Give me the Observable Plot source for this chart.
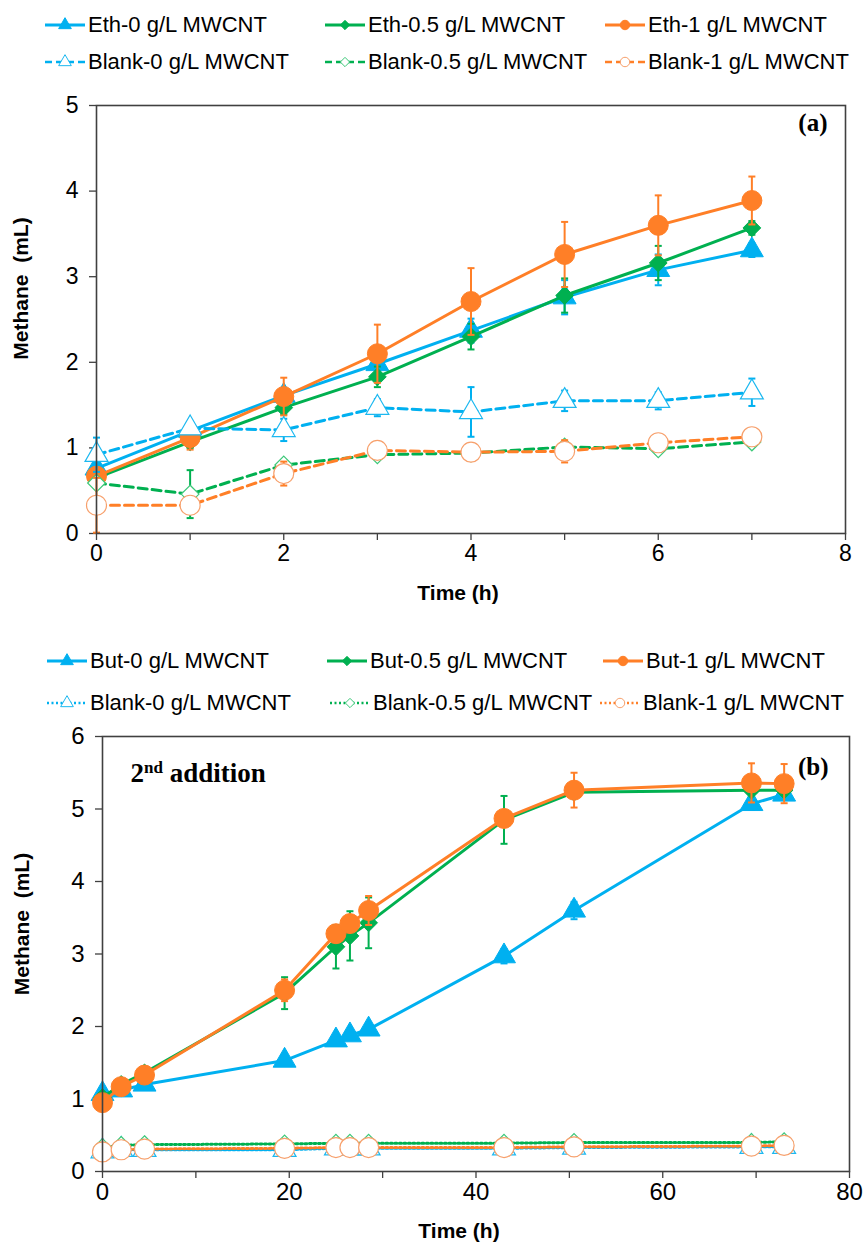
<!DOCTYPE html>
<html>
<head>
<meta charset="utf-8">
<script src="https://cdn.jsdelivr.net/npm/d3@7"></script>
<script src="https://cdn.jsdelivr.net/npm/@observablehq/plot@0.6"></script>
<style>
  html, body { margin: 0; padding: 0; background: #fff; }
  #root { position: relative; width: 864px; height: 1243px; overflow: hidden; }
  .plot { position: absolute; left: 0; }
  .leg { position: absolute; display: flex; align-items: center; white-space: nowrap; color: #000; }
  .leg svg { display: block; margin-right: 3px; }
</style>
</head>
<body>
<div id="root"></div>
<script>
// ---------------- data: panel (a) ----------------
const timeA = [0, 1, 2, 3, 4, 5, 6, 7];
const eth0 = [0.76, 1.20, 1.61, 1.98, 2.37, 2.76, 3.08, 3.31];
const eth0Err = [0.05, 0.05, 0.05, 0.08, 0.14, 0.2, 0.18, 0.08];
const eth05 = [0.65, 1.07, 1.47, 1.83, 2.30, 2.78, 3.16, 3.57];
const eth05Err = [0.05, 0.07, 0.08, 0.12, 0.15, 0.2, 0.2, 0.08];
const eth1 = [0.67, 1.12, 1.60, 2.10, 2.71, 3.26, 3.60, 3.89];
const eth1Err = [0.05, 0.14, 0.22, 0.34, 0.39, 0.38, 0.35, 0.28];
const blankA0 = [0.92, 1.23, 1.21, 1.47, 1.42, 1.55, 1.55, 1.65];
const blankA0Err = [0.2, 0.05, 0.13, 0.1, 0.29, 0.12, 0.1, 0.16];
const blankA05 = [0.59, 0.46, 0.80, 0.92, 0.94, 1.01, 0.99, 1.07];
const blankA05Err = [0.05, 0.28, 0.05, 0.05, 0.04, 0.04, 0.05, 0.04];
const blankA1 = [0.33, 0.33, 0.70, 0.97, 0.95, 0.96, 1.06, 1.13];
const blankA1Err = [0.32, 0.05, 0.14, 0.05, 0.05, 0.13, 0.05, 0.05];
const namesA = ["Eth-0 g/L MWCNT", "Eth-0.5 g/L MWCNT", "Eth-1 g/L MWCNT",
                "Blank-0 g/L MWCNT", "Blank-0.5 g/L MWCNT", "Blank-1 g/L MWCNT"];

// ---------------- data: panel (b) ----------------
const timeB = [0, 2, 4.5, 19.5, 25, 26.5, 28.5, 43, 50.5, 69.5, 73];
const but0 = [1.07, 1.12, 1.20, 1.53, 1.81, 1.88, 1.96, 2.97, 3.60, 5.07, 5.20];
const but0Err = [0.03, 0.03, 0.03, 0.03, 0.04, 0.04, 0.04, 0.1, 0.12, 0.08, 0.05];
const but05 = [1.02, 1.20, 1.36, 2.46, 3.10, 3.25, 3.43, 4.85, 5.23, 5.26, 5.26];
const but05Err = [0.03, 0.05, 0.05, 0.22, 0.30, 0.34, 0.35, 0.33, 0.05, 0.05, 0.05];
const but1 = [0.95, 1.17, 1.33, 2.50, 3.28, 3.42, 3.60, 4.87, 5.26, 5.36, 5.35];
const but1Err = [0.03, 0.04, 0.05, 0.15, 0.1, 0.1, 0.2, 0.1, 0.24, 0.27, 0.27];
const blankB0 = [0.28, 0.30, 0.30, 0.30, 0.32, 0.32, 0.32, 0.32, 0.33, 0.34, 0.34];
const blankB05 = [0.33, 0.36, 0.37, 0.38, 0.39, 0.39, 0.39, 0.39, 0.40, 0.40, 0.41];
const blankB1 = [0.27, 0.30, 0.31, 0.32, 0.33, 0.33, 0.33, 0.33, 0.34, 0.35, 0.36];
const blankBErr = [0, 0, 0, 0, 0, 0, 0, 0, 0, 0, 0];
const namesB = ["But-0 g/L MWCNT", "But-0.5 g/L MWCNT", "But-1 g/L MWCNT",
                "Blank-0 g/L MWCNT", "Blank-0.5 g/L MWCNT", "Blank-1 g/L MWCNT"];

const xTicksA = [0, 1, 2, 3, 4, 5, 6, 7, 8];
const yTicksA = [0, 1, 2, 3, 4, 5];
const xTicksB = [0, 10, 20, 30, 40, 50, 60, 70, 80];
const yTicksB = [0, 1, 2, 3, 4, 5, 6];

// ---------------- styles ----------------
const BLUE = "#00B0F0", GREEN = "#00B050", ORANGE = "#FF7F27";
const LBLUE = "#1CB8F0", LGREEN = "#3CC878", LORANGE = "#F7A06C";
const SANS = "'Liberation Sans', Arial, sans-serif";
const SERIF = "'Liberation Serif', 'DejaVu Serif', serif";

const styleSolid = [
  {color: BLUE, mstroke: BLUE, fill: BLUE, symbol: "triangle", r: 8.5},
  {color: GREEN, mstroke: GREEN, fill: GREEN, symbol: "diamond2", r: 8},
  {color: ORANGE, mstroke: ORANGE, fill: ORANGE, symbol: "circle", r: 10}
];
const styleOpen = [
  {color: BLUE, mstroke: LBLUE, fill: "white", symbol: "triangle", r: 8.5},
  {color: GREEN, mstroke: LGREEN, fill: "white", symbol: "diamond2", r: 8},
  {color: ORANGE, mstroke: LORANGE, fill: "white", symbol: "circle", r: 10}
];

const capSymbol = { draw(ctx) { ctx.moveTo(-3.5, 0); ctx.lineTo(3.5, 0); } };

function rowsOf(t, v, e) { return t.map((x, i) => ({t: x, v: v[i], e: e[i]})); }

function seriesMarks(rows, st, dash, dashW) {
  const withErr = rows.filter(d => d.e > 0);
  const caps = withErr.flatMap(d => [{t: d.t, y: d.v + d.e}, {t: d.t, y: d.v - d.e}]);
  return [
    Plot.line(rows, {x: "t", y: "v", stroke: st.color, strokeWidth: dashW, strokeDasharray: dash}),
    Plot.ruleX(withErr, {x: "t", y1: d => d.v - d.e, y2: d => d.v + d.e, stroke: st.color, strokeWidth: 2}),
    Plot.dot(caps, {x: "t", y: "y", symbol: capSymbol, r: 3, stroke: st.color, strokeWidth: 2, fill: "none"}),
    Plot.dot(rows, {x: "t", y: "v", symbol: st.symbol, r: st.r, fill: st.fill, stroke: st.mstroke,
                    strokeWidth: st.fill === "white" ? 1.2 : 1})
  ];
}

function makePanel(cfg) {
  const marks = [];
  cfg.solid.forEach((rows, i) => marks.push(...seriesMarks(rows, styleSolid[i], null, 3)));
  cfg.open.forEach((rows, i) => marks.push(...seriesMarks(rows, styleOpen[i], cfg.dash, cfg.dashW)));
  const chart = Plot.plot({
    width: 864, height: cfg.height,
    marginTop: cfg.mTop, marginBottom: cfg.mBottom, marginLeft: cfg.mLeft, marginRight: cfg.mRight,
    style: {fontFamily: SANS, fontSize: cfg.tickFont + "px", color: "#000", background: "transparent"},
    x: {domain: cfg.xDomain},
    y: {domain: cfg.yDomain},
    marks: [
      Plot.axisX({ticks: cfg.xTicks, tickFormat: d => (d % cfg.labelEvery === 0 ? String(d) : ""),
                  tickSize: 7, tickPadding: 4, label: null, fontSize: cfg.tickFont, stroke: "#404040", strokeWidth: 1.3}),
      Plot.axisY({ticks: cfg.yTicks, tickFormat: d => String(d), tickSize: 7, tickPadding: 11,
                  label: null, fontSize: cfg.tickFont, stroke: "#404040", strokeWidth: 1.3}),
      ...marks,
      Plot.frame({stroke: "#404040", strokeWidth: 1.6}),
      Plot.text(["Time (h)"], {frameAnchor: "bottom", dx: cfg.xLabDx, dy: 60, fontWeight: "bold",
                               fontSize: cfg.titleFont, fontFamily: SANS, lineAnchor: "middle"}),
      Plot.text(["Methane  (mL)"], {frameAnchor: "left", dx: cfg.yLabDx, dy: cfg.yLabDy, rotate: -90,
                                    fontWeight: "bold", fontSize: cfg.titleFont, fontFamily: SANS,
                                    textAnchor: "middle", lineAnchor: "middle"}),
      Plot.text([cfg.tag], {frameAnchor: "top-right", dx: cfg.tagDx, dy: cfg.tagDy, textAnchor: "end",
                            lineAnchor: "middle", fontWeight: "bold", fontSize: 25, fontFamily: SERIF}),
      ...(cfg.note ? [Plot.text([cfg.note], {frameAnchor: "top-left", dx: cfg.noteDx, dy: cfg.noteDy,
                            textAnchor: "start", lineAnchor: "middle", fontWeight: "bold", fontSize: 27,
                            fontFamily: SERIF})] : [])
    ]
  });
  chart.classList.add("plot");
  chart.style.top = cfg.top + "px";
  // superscript for "2nd addition"
  d3.select(chart).selectAll("text").filter(function () { return this.textContent === "2nd addition"; })
    .each(function () {
      const t = d3.select(this);
      t.text(null);
      t.append("tspan").text("2");
      t.append("tspan").attr("dy", -9).attr("font-size", 17).text("nd");
      t.append("tspan").attr("dy", 9).text(" addition");
    });
  return chart;
}

function swatch(st, dash, dashW) {
  const ns = "http://www.w3.org/2000/svg";
  const svg = document.createElementNS(ns, "svg");
  svg.setAttribute("width", 40); svg.setAttribute("height", 20);
  const line = document.createElementNS(ns, "line");
  line.setAttribute("x1", 0); line.setAttribute("x2", 40);
  line.setAttribute("y1", 10); line.setAttribute("y2", 10);
  line.setAttribute("stroke", st.color); line.setAttribute("stroke-width", dashW);
  if (dash) line.setAttribute("stroke-dasharray", dash);
  svg.appendChild(line);
  const sym = {triangle: d3.symbolTriangle, diamond2: d3.symbolDiamond2, circle: d3.symbolCircle}[st.symbol];
  const size = {triangle: 70, diamond2: 55, circle: 70}[st.symbol];
  const p = document.createElementNS(ns, "path");
  p.setAttribute("d", d3.symbol(sym, size)());
  p.setAttribute("transform", "translate(20,10)");
  p.setAttribute("fill", st.fill); p.setAttribute("stroke", st.mstroke);
  p.setAttribute("stroke-width", 1);
  svg.appendChild(p);
  return svg;
}

function legend(root, names, positions, dash, dashW, font, fontSize) {
  names.forEach((name, i) => {
    const solid = i < 3;
    const st = solid ? styleSolid[i] : styleOpen[i - 3];
    const [x, y] = positions[i];
    const div = document.createElement("div");
    div.className = "leg";
    div.style.left = x + "px";
    div.style.top = (y - 13) + "px";
    div.style.height = "26px";
    div.style.fontFamily = font;
    div.style.fontSize = fontSize + "px";
    div.appendChild(swatch(st, solid ? null : dash, solid ? 3 : dashW));
    const span = document.createElement("span");
    span.textContent = name;
    div.appendChild(span);
    root.appendChild(div);
  });
}

const root = document.getElementById("root");

// panel (a)
legend(root, namesA, [[45, 25], [325, 25], [605, 25], [45, 62], [325, 62], [605, 62]],
       "7,4", 2.5, SANS, 22);
root.appendChild(makePanel({
  top: 80, height: 540, mTop: 25, mBottom: 87, mLeft: 96, mRight: 19,
  xDomain: [0, 8], yDomain: [0, 5], xTicks: xTicksA, yTicks: yTicksA, labelEvery: 2,
  tickFont: 23, titleFont: 21, xLabDx: -13, yLabDx: -75, yLabDy: -31,
  tag: "(a)", tagDx: -18, tagDy: 17,
  solid: [rowsOf(timeA, eth0, eth0Err), rowsOf(timeA, eth05, eth05Err), rowsOf(timeA, eth1, eth1Err)],
  open: [rowsOf(timeA, blankA0, blankA0Err), rowsOf(timeA, blankA05, blankA05Err), rowsOf(timeA, blankA1, blankA1Err)],
  dash: "9,5", dashW: 3
}));

// panel (b)
legend(root, namesB, [[47, 661], [327, 661], [603, 661], [47, 703], [330, 703], [600, 703]],
       "2,2.5", 2.5, SANS, 22);
root.appendChild(makePanel({
  top: 715, height: 528, mTop: 21, mBottom: 72, mLeft: 102, mRight: 15,
  xDomain: [0, 80], yDomain: [0, 6], xTicks: xTicksB, yTicks: yTicksB, labelEvery: 20,
  tickFont: 24, titleFont: 21, xLabDx: -17, yLabDx: -80, yLabDy: -30,
  tag: "(b)", tagDx: -21, tagDy: 30, note: "2nd addition", noteDx: 28, noteDy: 37,
  solid: [rowsOf(timeB, but0, but0Err), rowsOf(timeB, but05, but05Err), rowsOf(timeB, but1, but1Err)],
  open: [rowsOf(timeB, blankB0, blankBErr), rowsOf(timeB, blankB05, blankBErr), rowsOf(timeB, blankB1, blankBErr)],
  dash: "2,2.5", dashW: 3
}));
</script>
</body>
</html>
